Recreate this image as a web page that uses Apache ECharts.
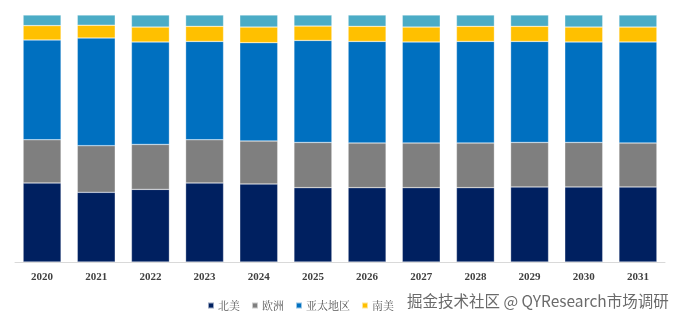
<!DOCTYPE html>
<html>
<head>
<meta charset="utf-8">
<script src="https://cdn.jsdelivr.net/npm/echarts@6/dist/echarts.min.js"></script>
<style>html,body{margin:0;padding:0;background:#fff;}#c{width:681px;height:322px;}</style>
</head>
<body>
<div id="c"></div>
<script>
var years = ['2020','2021','2022','2023','2024','2025','2026','2027','2028','2029','2030','2031'];
var seriesNames = ['北美','欧洲','亚太地区','南美','中东及非洲'];
var northAmerica = [32.0,28.2,29.4,32.0,31.6,30.1,30.1,30.1,30.1,30.4,30.4,30.4];
var europe       = [17.5,18.9,18.2,17.5,17.4,18.3,18.1,18.1,18.1,18.0,18.0,17.8];
var asiaPacific  = [40.4,43.6,41.5,39.8,39.8,41.3,41.1,40.9,41.1,40.9,40.7,40.9];
var southAmerica = [5.8,5.2,6.0,6.1,6.3,5.8,6.1,6.0,6.1,6.1,6.0,6.0];
var mea          = [4.3,4.1,4.9,4.6,4.9,4.5,4.6,4.9,4.6,4.6,4.9,4.9];
var colors = ['#002060','#7f7f7f','#0070c0','#ffc000','#4bacc6'];
var allData = [northAmerica, europe, asiaPacific, southAmerica, mea];

var chart = echarts.init(document.getElementById('c'), null, {renderer:'canvas'});
var series = seriesNames.map(function(n,i){
  return {
    name:n, type:'bar', stack:'total', data: allData[i],
    barCategoryGap:'30%',
    itemStyle:{color:colors[i], borderColor:'rgba(255,255,255,0.6)', borderWidth:0.5}
  };
});
chart.setOption({
  animation:false,
  color: colors,
  grid:{left:15, right:16, top:15, bottom:60},
  legend:{
    data:['北美','欧洲','亚太地区','南美'],
    left:202, top:295,
    itemWidth:6, itemHeight:6, itemGap:11,
    icon:'rect',
    textStyle:{fontFamily:'"Noto Serif CJK SC","Noto Sans CJK SC",serif', fontSize:11, color:'#595959', padding:[0,0,0,-1]}
  },
  xAxis:{
    type:'category', data:years,
    axisLine:{lineStyle:{color:'#d9d9d9', width:1}},
    axisTick:{show:false},
    axisLabel:{fontFamily:'"Liberation Serif","Times New Roman",serif', fontWeight:'bold', fontSize:11, color:'#404040', margin:10}
  },
  yAxis:{type:'value', min:0, max:100, show:false, splitLine:{show:false}},
  series: series,
  graphic:[{
    type:'text', left:407, top:293,
    style:{text:'掘金技术社区 @ QYResearch市场调研', font:'15.5px "Noto Sans CJK SC", sans-serif', fill:'rgba(80,80,80,0.85)'}
  }]
});
</script>
</body>
</html>
